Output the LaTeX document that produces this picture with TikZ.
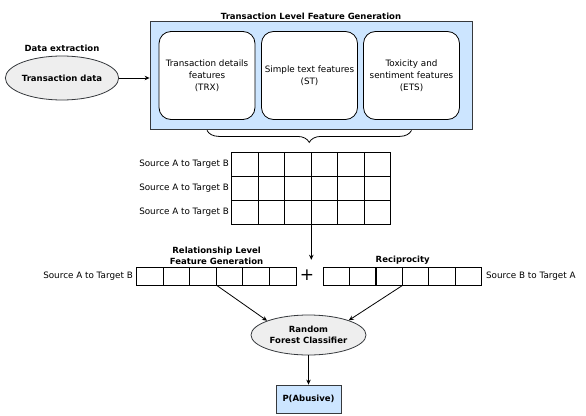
\documentclass[tikz,border=0pt]{standalone}
\usepackage{fontspec}
\setmainfont{DejaVu Sans}
\usetikzlibrary{positioning,shapes.geometric,decorations.pathreplacing,arrows.meta}
\definecolor{boxblue}{HTML}{CCE5FF}
\definecolor{ellgray}{HTML}{EEEEEE}
\definecolor{edgegray}{HTML}{36393D}
\tikzset{
	small/.style={font=\fontsize{8.8}{12}\selectfont},
	bold/.style={font=\fontsize{8.5}{11.5}\selectfont\bfseries},
	featbox/.style={draw, fill=white, rounded corners=12pt, line width=0.8pt, minimum width=96pt, minimum height=88pt, align=center, small},
	cell/.style={draw, line width=0.8pt, minimum width=26.5pt, minimum height=24pt, inner sep=0pt, anchor=north west},
	vcell/.style={draw, line width=0.8pt, minimum width=26.6pt, minimum height=17.5pt, inner sep=0pt, anchor=north west},
	oval/.style={draw=edgegray, fill=ellgray, ellipse, line width=0.8pt, align=center, bold, inner sep=0pt},
	arr/.style={-{Stealth[length=5pt,width=4.5pt]}, line width=0.8pt}
}
\begin{document}
\begin{tikzpicture}[x=1pt,y=-1pt]
	\useasboundingbox (0,0) rectangle (586,415);
	\def \ncol {5}
	
	\node[draw=edgegray, fill=boxblue, line width=0.8pt, minimum width=322pt, minimum height=108pt] (feat) at (311,75) { };
	\node[bold, anchor=south, inner sep=1pt] (feattitle) at (feat.north) {Transaction Level Feature Generation};
	\node[featbox] (trx) at (207,75.5) {Transaction details\\features\\(TRX)};
	\node[featbox] (st) at (309.5,75.5) {Simple text features\\(ST)};
	\node[featbox] (ets) at (411.5,75.5) {Toxicity and\\sentiment features\\(ETS)};
	
	\node[oval, minimum width=96pt, minimum height=44pt] (td) at (62,78) {Transaction data};
	\node[bold] (extract) at (62,48) {Data extraction};
	\path[draw, arr] (td.east) -- (td.east -| feat.west);
	
	\draw[decorate, decoration={brace, mirror, amplitude=12pt}, line width=0.8pt] ([yshift=-10.5pt]trx.south) -- ([yshift=-10.5pt]ets.south);
	
	\foreach \r in {0,1,2}
	{
		\foreach \c in {0,...,\ncol}
		{
			\node[cell] (g\r\c) at ({231+26.5*\c},{152+24*\r}) { };
		}
		\node[small, anchor=east, inner sep=2pt] (src\r) at (g\r0.west) {Source A to Target B};
	}
	
	\foreach \c in {0,...,\ncol}
	{
		\node[vcell] (l\c) at ({136+26.6*\c},267) { };
		\node[vcell] (r\c) at ({322.5+26.4*\c},267) { };
	}
	\node[small, anchor=east, inner sep=3pt] (srcab) at (l0.west) {Source A to Target B};
	\node[small, anchor=west, inner sep=4pt] (srcba) at (r5.east) {Source B to Target A};
	\node[bold, anchor=south, align=center, inner sep=2pt] (rel) at (l2.north east) {Relationship Level\\Feature Generation};
	\node[bold, anchor=south, inner sep=2pt] (recip) at (r2.north east) {Reciprocity};
	
	\node[minimum height=30pt, inner sep=0pt, font=\fontsize{17}{17}\selectfont\mdseries] (plus) at (307,275) {+};
	\path[draw, arr] (g22.south east) -- (g22.south east |- plus.north);
	
	\node[oval, minimum width=115pt, minimum height=40pt] (rf) at (308.5,335) {Random\\Forest Classifier};
	\node[draw=edgegray, fill=boxblue, line width=0.8pt, minimum width=65pt, minimum height=28pt, bold] (pab) at (308.5,399) {P(Abusive)};
	
	\path[draw, arr] (l2.south east) -- (rf.161);
	\path[draw, arr] (r2.south east) -- (rf.20);
	\path[draw, arr] (rf.south) -- (pab.north);
\end{tikzpicture}
\end{document}
